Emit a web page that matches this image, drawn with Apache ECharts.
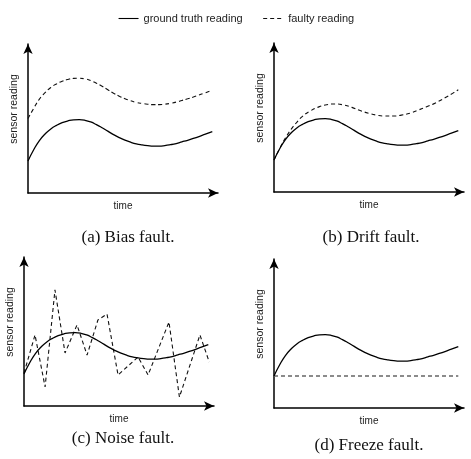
<!DOCTYPE html>
<html>
<head>
<meta charset="utf-8">
<script src="https://cdn.jsdelivr.net/npm/echarts@6/dist/echarts.min.js"></script>
<style>
html,body{margin:0;padding:0;background:#fff;}
#main{width:471px;height:459px;}
</style>
</head>
<body>
<div id="main"></div>
<script>
// ground truth curve (same in every panel)
var truthT = [0, 3, 6, 9, 12, 15, 18, 21, 24, 27, 30, 33, 36, 39, 42, 45, 48, 51, 54, 57, 60, 63, 66, 69, 72, 75, 78, 81, 84, 87, 90, 93, 97];
var truthV = [21.5, 29, 35.2, 39.6, 43, 45.4, 47.2, 48.4, 49.1, 49.2, 48.8, 47.7, 45.9, 43.8, 41.5, 39.2, 37.2, 35.5, 34.1, 33, 32.3, 31.8, 31.5, 31.5, 31.8, 32.4, 33.2, 34.3, 35.4, 36.6, 37.9, 39.3, 41.2];
// (a) bias
var biasV = [50, 56.8, 63, 67.4, 70.8, 73.2, 75, 76.2, 76.9, 77, 76.6, 75.5, 73.7, 71.6, 69.3, 67, 65, 63.3, 61.9, 60.8, 60.1, 59.6, 59.3, 59.3, 59.6, 60.2, 61, 62.1, 63.2, 64.4, 65.7, 67.1, 69];
// (b) drift
var driftT = [0, 3, 6, 9, 12, 15, 19, 23, 27, 32, 37, 41, 45, 50, 54, 58, 63, 67, 72, 76, 80, 85, 90, 94, 97];
var driftV = [21.5, 29.2, 36.2, 42, 46.8, 50.8, 54.3, 56.8, 58.4, 59.1, 58.3, 56.8, 54.8, 52.8, 51.6, 51, 51, 51.6, 53, 55, 57, 59.8, 63.2, 66.2, 68.6];
// (c) noise
var noiseT = [0, 5.8, 11.1, 16.3, 21.6, 27.9, 33.2, 38.9, 43.7, 49.5, 60, 65.3, 76.3, 81.8, 92.6, 97.5];
var noiseV = [22.1, 47.7, 12.8, 77.9, 35.6, 54.4, 34.2, 57.7, 61.7, 20.8, 32.9, 20.8, 56.4, 6, 47.7, 29.5];
// (d) freeze
var freezeT = [0, 97];
var freezeV = [21.5, 21.5];

var captions = ['(a) Bias fault.', '(b) Drift fault.', '(c) Noise fault.', '(d) Freeze fault.'];
var seriesNames = ['ground truth reading', 'faulty reading'];

function pairs(t, v){
	var out = [];
	for(var i=0;i<t.length;i++){ out.push([t[i], v[i]]); }
	return out;
}

var chart = echarts.init(document.getElementById('main'));

var grids = [
	{left: 28, top: 44, width: 190, height: 149},
	{left: 274, top: 43, width: 190, height: 149},
	{left: 24, top: 257, width: 190, height: 149},
	{left: 274, top: 259, width: 190, height: 149}
];
var capPos = [[123, 224], [366, 224], [118, 425], [364, 432]];

var axisLine = {
	show: true,
	symbol: ['none', 'arrow'],
	symbolSize: [7, 10],
	lineStyle: {color: '#000', width: 1.5}
};

var xAxes = [], yAxes = [], titles = [];
for(var g=0; g<4; g++){
	xAxes.push({
		type: 'value', gridIndex: g, min: 0, max: 100,
		name: 'time', nameLocation: 'middle', nameGap: 8,
		nameTextStyle: {color: '#222', fontSize: 10, fontFamily: 'Liberation Sans'},
		axisLine: axisLine, axisTick: {show: false},
		axisLabel: {show: false}, splitLine: {show: false}
	});
	yAxes.push({
		type: 'value', gridIndex: g, min: 0, max: 100,
		name: 'sensor reading', nameLocation: 'middle', nameGap: 8,
		nameTextStyle: {color: '#222', fontSize: 10.5, fontFamily: 'Liberation Sans', padding: [0, 0, 0, 19]},
		axisLine: axisLine, axisTick: {show: false},
		axisLabel: {show: false}, splitLine: {show: false}
	});
	titles.push({
		text: captions[g], left: capPos[g][0], top: capPos[g][1], textAlign: 'center',
		textStyle: {fontFamily: 'Liberation Serif', fontSize: 17, fontWeight: 'normal', color: '#111'}
	});
}

var solid = {color: '#000', width: 1.3, type: 'solid'};
var dashed = {color: '#111', width: 1.1, type: [4, 3]};
var grey = {color: '#666', width: 1.6, type: [4, 3]};

var faulty = [pairs(truthT, biasV), pairs(driftT, driftV), pairs(noiseT, noiseV), pairs(freezeT, freezeV)];
var series = [];
for(var k=0; k<4; k++){
	series.push({
		name: seriesNames[0], type: 'line', xAxisIndex: k, yAxisIndex: k,
		data: pairs(truthT, truthV), smooth: true, showSymbol: false, symbol: 'none',
		lineStyle: solid, itemStyle: {color: '#000'}, silent: true, z: 3
	});
	series.push({
		name: seriesNames[1], type: 'line', xAxisIndex: k, yAxisIndex: k,
		data: faulty[k], smooth: (k==0 || k==1), showSymbol: false, symbol: 'none',
		lineStyle: k==3 ? grey : dashed, itemStyle: {color: '#111'}, silent: true, z: 2
	});
}

chart.setOption({
	animation: false,
	backgroundColor: '#fff',
	title: titles,
	legend: {
		data: seriesNames, left: 113, top: 8,
		itemWidth: 20, itemHeight: 10, itemGap: 20,
		itemStyle: {opacity: 0},
		lineStyle: {width: 1.1},
		textStyle: {fontSize: 11, fontFamily: 'Liberation Sans', color: '#222'}
	},
	grid: grids,
	xAxis: xAxes,
	yAxis: yAxes,
	series: series
});
</script>
</body>
</html>
